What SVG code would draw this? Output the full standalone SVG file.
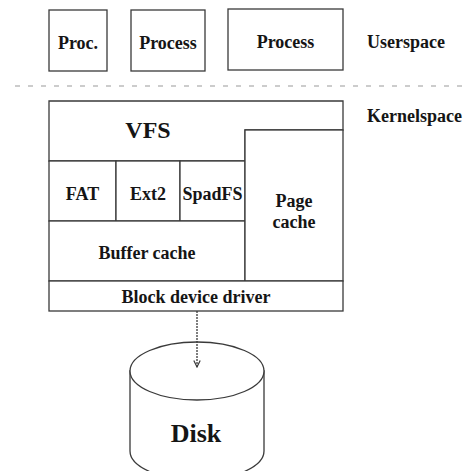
<svg xmlns="http://www.w3.org/2000/svg" width="470" height="471" viewBox="0 0 470 471" font-family="'Liberation Serif', 'DejaVu Serif', serif">
<style>
  .box { fill: #ffffff; stroke: #3a3a3a; stroke-width: 1.3; }
  .ln { fill: none; stroke: #3a3a3a; stroke-width: 1.3; }
  text { font-family: 'Liberation Serif', 'DejaVu Serif', serif; font-weight: bold; font-size: 18px; fill: #151515; }
  .t { text-anchor: middle; }
  .sep { stroke: #9a9a9a; stroke-width: 1.2; stroke-dasharray: 5 8; fill: none; }
</style>
<defs>
  <marker id="arr" viewBox="0 0 10 10" refX="9" refY="5" markerWidth="8" markerHeight="8" orient="auto" markerUnits="userSpaceOnUse">
    <path d="M1,1 L9,5 L1,9" fill="none" stroke="#3a3a3a" stroke-width="1.5"/>
  </marker>
</defs>
<rect width="470" height="471" fill="#ffffff"/>

<g id="proc1">
  <rect class="box" x="49" y="10" width="58" height="61"/>
  <text class="t" x="78" y="49" font-family="Liberation Serif, serif">Proc.</text>
</g>
<g id="proc2">
  <rect class="box" x="131" y="10" width="74" height="61"/>
  <text class="t" x="168" y="49" font-family="Liberation Serif, serif">Process</text>
</g>
<g id="proc3">
  <rect class="box" x="228" y="9" width="115" height="61"/>
  <text class="t" x="285.5" y="48" font-family="Liberation Serif, serif">Process</text>
</g>
<g id="userspace-label">
  <text x="367" y="48" font-family="Liberation Serif, serif">Userspace</text>
</g>
<g id="separator">
  <line class="sep" x1="15" y1="86" x2="470" y2="86"/>
</g>
<g id="kernelspace-label">
  <text x="367" y="122" font-family="Liberation Serif, serif">Kernelspace</text>
</g>

<g id="vfs">
  <path class="box" d="M49,101 H343 V130 H245 V161 H49 Z"/>
  <text class="t" x="148" y="138" font-family="Liberation Serif, serif" style="font-size:24px">VFS</text>
</g>
<g id="fat">
  <rect class="box" x="49" y="161" width="67" height="60"/>
  <text class="t" x="82.5" y="200" font-family="Liberation Serif, serif">FAT</text>
</g>
<g id="ext2">
  <rect class="box" x="116" y="161" width="64" height="60"/>
  <text class="t" x="148" y="200" font-family="Liberation Serif, serif">Ext2</text>
</g>
<g id="spadfs">
  <rect class="box" x="180" y="161" width="65" height="60"/>
  <text class="t" x="212.5" y="200" font-family="Liberation Serif, serif">SpadFS</text>
</g>
<g id="buffer-cache">
  <rect class="box" x="49" y="221" width="196" height="60"/>
  <text class="t" x="147" y="259" font-family="Liberation Serif, serif">Buffer cache</text>
</g>
<g id="page-cache">
  <rect class="box" x="245" y="130" width="98" height="151"/>
  <text class="t" x="294" y="207" font-family="Liberation Serif, serif">Page</text>
  <text class="t" x="294" y="228" font-family="Liberation Serif, serif">cache</text>
</g>
<g id="block-driver">
  <rect class="box" x="49" y="281" width="294" height="30"/>
  <text class="t" x="196" y="303" font-family="Liberation Serif, serif">Block device driver</text>
</g>

<g id="disk">
  <path class="box" d="M130,371 V451 A67,29 0 0 0 264,451 V371 Z"/>
  <ellipse class="box" cx="197" cy="371" rx="67" ry="29"/>
  <text class="t" x="196" y="442" font-family="Liberation Serif, serif" style="font-size:26px">Disk</text>
</g>

<g id="connectors">
  <line class="ln" x1="197" y1="311" x2="197" y2="367" marker-end="url(#arr)" stroke-dasharray="2 1"/>
</g>
</svg>
